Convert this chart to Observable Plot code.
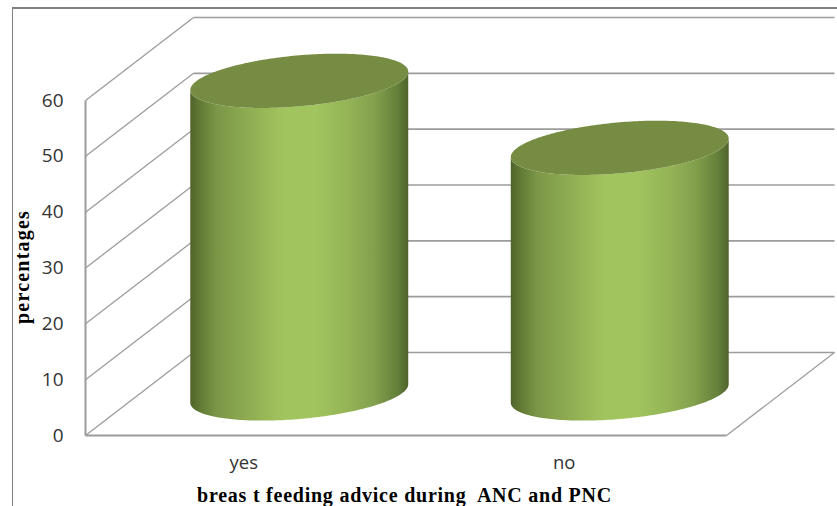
<!DOCTYPE html>
<html>
<head>
<meta charset="utf-8">
<script src="https://cdn.jsdelivr.net/npm/d3@7"></script>
<script src="https://cdn.jsdelivr.net/npm/@observablehq/plot@0.6"></script>
<style>
  html, body { margin: 0; padding: 0; background: #fff; overflow: hidden; }
  #chart { position: relative; width: 837px; height: 506px; }
  #frame {
    position: absolute; left: 12px; top: 7px; right: 0; bottom: 0;
    border-left: 1.5px solid #808080; border-top: 2px solid #808080;
    pointer-events: none;
  }
</style>
</head>
<body>
<div id="chart"><div id="frame"></div></div>
<script>
// Share of respondents advised on breast feeding
const categories = ["yes", "no"];
const percentages = [56, 44];
const yTicks = [0, 10, 20, 30, 40, 50, 60];

const xTitle = "breas t feeding advice during  ANC and PNC";
const yTitle = "percentages";

// Oblique depth of the 3D box, in scale units (x: category bands, y: percent)
const depthX = 0.337;
const depthY = 14.87;
const wallColor = "#9c9c9c";

// Cylinder cross-section, in scale units
const radiusX = 0.34;
const radiusDepth = 4.57;
const tilt = 1.65;

const bars = categories.map((category, i) => ({
  category,
  value: percentages[i],
  centre: i + 0.5 + depthX / 2,
  base: depthY / 2
}));

// Upper and lower arcs of an elliptical disc, sampled from left to right
const steps = d3.range(0, 121).map((i) => Math.PI * (1 - i / 120));
function disc(bar, level) {
  return steps.map((t) => ({
    category: bar.category,
    x: bar.centre + radiusX * Math.cos(t),
    upper: level + tilt * Math.cos(t) + radiusDepth * Math.sin(t),
    lower: level + tilt * Math.cos(t) - radiusDepth * Math.sin(t)
  }));
}

// The side of each cylinder runs from the front of its base to the front of its top
const sides = bars.flatMap((bar) => {
  const top = disc(bar, bar.base + bar.value);
  const bottom = disc(bar, bar.base);
  return top.map((p, i) => ({category: bar.category, x: p.x, y1: bottom[i].lower, y2: p.lower}));
});
const tops = bars.flatMap((bar) => disc(bar, bar.base + bar.value));

const sideGradient = () => {
  const defs = d3.create("svg:defs");
  const g = defs.append("linearGradient").attr("id", "cylinder-side");
  [
    [0, "#4f632b"], [0.05, "#637c35"], [0.12, "#7b9647"], [0.27, "#8fad52"],
    [0.43, "#a2c45e"], [0.58, "#a2c45e"], [0.73, "#93b356"], [0.84, "#84a14d"],
    [0.95, "#64803a"], [1, "#4f632b"]
  ].forEach(([offset, color]) => g.append("stop").attr("offset", offset).attr("stop-color", color));
  return defs.node();
};

// Wider tracking for the serif axis titles
const tracked = (spacing) => (index, scales, values, dimensions, context, next) => {
  const node = next(index, scales, values, dimensions, context);
  node.style.letterSpacing = `${spacing}px`;
  return node;
};

const chart = Plot.plot({
  width: 837,
  height: 506,
  marginLeft: 85,
  marginRight: 111,
  marginTop: 100,
  marginBottom: 71,
  style: {background: "transparent", overflow: "visible"},
  x: {domain: [0, 2], axis: null},
  y: {domain: [0, 60]},
  marks: [
    sideGradient,
    // back wall
    Plot.link(yTicks, {
      x1: depthX, x2: 2 + depthX,
      y1: (d) => d + depthY, y2: (d) => d + depthY,
      stroke: wallColor, strokeWidth: 1.7
    }),
    // side wall
    Plot.link(yTicks, {
      x1: 0, x2: depthX,
      y1: (d) => d, y2: (d) => d + depthY,
      stroke: wallColor, strokeWidth: 1.3
    }),
    Plot.link([0], {x1: 0, x2: 0, y1: 0, y2: 60, stroke: wallColor, strokeWidth: 2}),
    // floor
    Plot.link([0], {x1: 0, x2: 2, y1: 0, y2: 0, stroke: wallColor, strokeWidth: 2}),
    Plot.link([0], {x1: 2, x2: 2 + depthX, y1: 0, y2: depthY, stroke: wallColor, strokeWidth: 1.3}),
    // cylinders
    Plot.area(sides, {x1: "x", y1: "y1", y2: "y2", z: "category", fill: "url(#cylinder-side)"}),
    Plot.area(tops, {x1: "x", y1: "lower", y2: "upper", z: "category", fill: "#758c42"}),
    // axes
    Plot.axisY({
      ticks: yTicks, tickSize: 0, tickPadding: 22, label: null,
      fontFamily: "Open Sans", fontSize: 19, fill: "#333"
    }),
    Plot.text(bars, {
      x: (d, i) => i + 0.5, y: 0, text: "category", dy: 28, dx: -2,
      fontFamily: "Open Sans", fontSize: 18.5, fill: "#333"
    }),
    Plot.text([xTitle], {
      frameAnchor: "bottom", dy: 52, dx: -1.5, lineAnchor: "top", render: tracked(0.76),
      fontFamily: "Liberation Serif", fontWeight: "bold", fontSize: 20, fill: "#000"
    }),
    Plot.text([yTitle], {
      frameAnchor: "left", rotate: -90, dx: -63, dy: -1, textAnchor: "middle", render: tracked(1.2),
      fontFamily: "Liberation Serif", fontWeight: "bold", fontSize: 20, fill: "#000"
    })
  ]
});

document.getElementById("chart").prepend(chart);
</script>
</body>
</html>
